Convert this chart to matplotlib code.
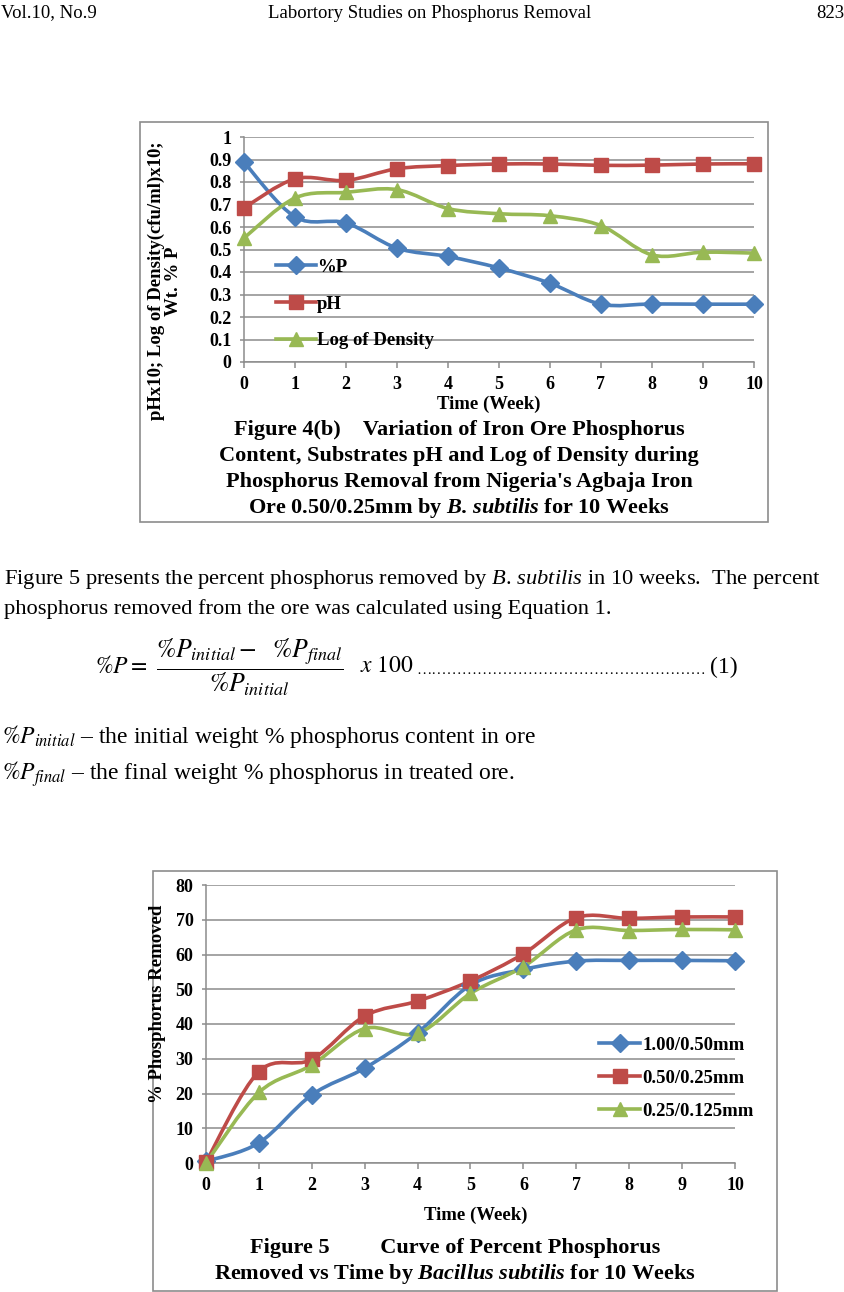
import matplotlib
matplotlib.use("Agg")
import matplotlib.pyplot as plt
from matplotlib.path import Path
from matplotlib.patches import PathPatch, Rectangle
from matplotlib.lines import Line2D

plt.rcParams['font.family'] = ['Liberation Serif', 'DejaVu Serif']
plt.rcParams['mathtext.fontset'] = 'custom'
plt.rcParams['mathtext.rm'] = 'Liberation Serif'
plt.rcParams['mathtext.it'] = 'Liberation Serif:italic'
plt.rcParams['mathtext.bf'] = 'Liberation Serif:bold'
plt.rcParams['mathtext.bfit'] = 'Liberation Serif:italic:bold'

W, H = 845, 1292

weeks = [0, 1, 2, 3, 4, 5, 6, 7, 8, 9, 10]

# Figure 4(b) series
p_content = [0.888, 0.645, 0.618, 0.506, 0.469, 0.418, 0.350, 0.257, 0.258, 0.257, 0.257]
ph_x10 = [0.685, 0.814, 0.807, 0.859, 0.873, 0.880, 0.880, 0.874, 0.875, 0.880, 0.881]
log_density = [0.551, 0.729, 0.754, 0.766, 0.682, 0.659, 0.650, 0.606, 0.476, 0.488, 0.484]
fig4_labels = ['%P', 'pH', 'Log of Density']

# Figure 5 series
removed_100_050 = [0.5, 5.8, 19.6, 27.3, 37.5, 51.2, 55.7, 58.1, 58.3, 58.3, 58.2]
removed_050_025 = [0.3, 26.3, 29.8, 42.3, 46.6, 52.4, 60.2, 70.6, 70.4, 70.8, 70.8]
removed_025_0125 = [0.0, 20.3, 28.2, 38.7, 37.3, 48.8, 56.5, 67.1, 66.9, 67.2, 67.1]
fig5_labels = ['1.00/0.50mm', '0.50/0.25mm', '0.25/0.125mm']

BLUE, RED, GREEN = '#4a7ebb', '#be4b48', '#98b954'
GRID = '#8c8c8c'
styles = [(BLUE, 'D', 9), (RED, 's', 10), (GREEN, '^', 10)]


def fx(x):
    return x / W


def fy(y):
    return 1 - y / H


def smooth_line(ax, x, y, color, lw=2.6):
    # excel style smoothed line: bezier segments through the data points
    n = len(x)
    verts = [(x[0], y[0])]
    codes = [Path.MOVETO]
    for i in range(n - 1):
        x0, y0 = x[max(i - 1, 0)], y[max(i - 1, 0)]
        x3, y3 = x[min(i + 2, n - 1)], y[min(i + 2, n - 1)]
        c1 = (x[i] + (x[i + 1] - x0) / 6, y[i] + (y[i + 1] - y0) / 6)
        c2 = (x[i + 1] - (x3 - x[i]) / 6, y[i + 1] - (y3 - y[i]) / 6)
        verts += [c1, c2, (x[i + 1], y[i + 1])]
        codes += [Path.CURVE4] * 3
    ax.add_patch(PathPatch(Path(verts, codes), fill=False, edgecolor=color,
                           lw=lw, capstyle='round', joinstyle='round', zorder=3))


def style_axes(ax, ymax, ystep, ylabels):
    ax.set_xlim(0, 10)
    ax.set_ylim(0, ymax)
    ax.set_xticks(weeks)
    ax.set_yticks([i * ystep for i in range(len(ylabels))])
    ax.set_yticklabels(ylabels)
    ax.grid(axis='y', color=GRID, lw=1.1)
    ax.set_axisbelow(True)
    for s in ['top', 'right']:
        ax.spines[s].set_visible(False)
    for s in ['left', 'bottom']:
        ax.spines[s].set_color(GRID)
        ax.spines[s].set_linewidth(1.1)
    ax.tick_params(axis='x', length=4, color=GRID, width=1.1, pad=6, labelsize=13)
    ax.tick_params(axis='y', length=3, color=GRID, width=1.1, pad=6, labelsize=13)
    for lab in ax.get_xticklabels() + ax.get_yticklabels():
        lab.set_fontweight('bold')


fig = plt.figure(figsize=(W / 100, H / 100), dpi=100)

# page header
fig.text(fx(1), fy(13), 'Vol.10, No.9', fontsize=13.5, va='center')
fig.text(fx(430), fy(13), 'Labortory Studies on Phosphorus Removal', fontsize=13.5, va='center', ha='center')
fig.text(fx(844), fy(13), '823', fontsize=13.5, va='center', ha='right')

# ---------- Figure 4(b) ----------
fig.patches.append(Rectangle((fx(140), fy(522)), (768 - 140) / W, (522 - 122) / H,
                             transform=fig.transFigure, fill=False, edgecolor=GRID, lw=1.2))
ax4 = fig.add_axes([fx(244), fy(362), (754 - 244) / W, (362 - 137) / H])
style_axes(ax4, 1, 0.1, ['0', '0.1', '0.2', '0.3', '0.4', '0.5', '0.6', '0.7', '0.8', '0.9', '1'])
handles = []
for ys, (c, m, ms), lab in zip([p_content, ph_x10, log_density], styles, fig4_labels):
    smooth_line(ax4, weeks, ys, c)
    ax4.plot(weeks, ys, ls='none', marker=m, ms=ms, color=c, clip_on=False, zorder=4)
    handles.append(Line2D([], [], color=c, lw=2.6, marker=m, ms=ms))
ax4.legend(handles, fig4_labels, loc='upper left', bbox_to_anchor=(0.045, 0.50), frameon=False,
           prop={'weight': 'bold', 'size': 13.5}, handlelength=2.1, handletextpad=0.05,
           labelspacing=1.04, borderpad=0)
fig.text(fx(165), fy(281), 'pHx10; Log of Density(cfu/ml)x10;\nWt. % P', rotation=90,
         ha='center', va='center', fontsize=13.5, weight='bold', linespacing=0.95)
fig.text(fx(489), fy(404), 'Time (Week)', ha='center', va='center', fontsize=13.5, weight='bold')
cap4 = ['Figure 4(b)    Variation of Iron Ore Phosphorus',
        'Content, Substrates pH and Log of Density during',
        "Phosphorus Removal from Nigeria's Agbaja Iron",
        r'Ore 0.50/0.25mm by $\mathbfit{B.\,subtilis}$ for 10 Weeks']
for i, line in enumerate(cap4):
    fig.text(fx(459), fy(430 + 26 * i), line, ha='center', va='center', fontsize=16, weight='bold')

# ---------- body text ----------
fig.text(fx(4), fy(579), r'Figure 5 presents the percent phosphorus removed by $\mathit{B.\,subtilis}$ in 10 weeks.  The percent',
         fontsize=16.2, va='center')
fig.text(fx(4), fy(609), 'phosphorus removed from the ore was calculated using Equation 1.', fontsize=16.2, va='center')
fig.text(fx(95), fy(667), r'$\%P =$', fontsize=17, va='center', math_fontfamily='stix')
fig.text(fx(156), fy(667), r'$\dfrac{\%P_{initial} -\ \ \%P_{final}}{\%P_{initial}}$', fontsize=18.5,
         va='center', math_fontfamily='stix')
fig.text(fx(360), fy(667), r'$x\ 100$', fontsize=17, va='center', math_fontfamily='stix')
fig.text(fx(416), fy(670), '…' * 19, fontsize=11, va='center')
fig.text(fx(738), fy(667), '(1)', fontsize=17, va='center', ha='right', math_fontfamily='stix')
fig.text(fx(2), fy(737), r'$\%P_{initial}$ – the initial weight % phosphorus content in ore', fontsize=17,
         va='center', math_fontfamily='stix')
fig.text(fx(2), fy(774), r'$\%P_{final}$ – the final weight % phosphorus in treated ore.', fontsize=17,
         va='center', math_fontfamily='stix')

# ---------- Figure 5 ----------
fig.patches.append(Rectangle((fx(153), fy(1291)), (777 - 153) / W, (1291 - 871) / H,
                             transform=fig.transFigure, fill=False, edgecolor=GRID, lw=1.2))
ax5 = fig.add_axes([fx(206), fy(1163), (735 - 206) / W, (1163 - 885) / H])
style_axes(ax5, 80, 10, ['0', '10', '20', '30', '40', '50', '60', '70', '80'])
handles = []
for ys, (c, m, ms), lab in zip([removed_100_050, removed_050_025, removed_025_0125], styles, fig5_labels):
    smooth_line(ax5, weeks, ys, c)
    ax5.plot(weeks, ys, ls='none', marker=m, ms=ms, color=c, clip_on=False, zorder=4)
    handles.append(Line2D([], [], color=c, lw=2.6, marker=m, ms=ms))
ax5.legend(handles, fig5_labels, loc='upper left', bbox_to_anchor=(0.725, 0.488), frameon=False,
           prop={'weight': 'bold', 'size': 13.5}, handlelength=2.2, handletextpad=0.1,
           labelspacing=0.85, borderpad=0)
fig.text(fx(158), fy(1004), '% Phosphorus Removed', rotation=90, ha='center', va='center',
         fontsize=13.5, weight='bold')
fig.text(fx(476), fy(1215), 'Time (Week)', ha='center', va='center', fontsize=13.5, weight='bold')
fig.text(fx(455), fy(1248), 'Figure 5         Curve of Percent Phosphorus', ha='center', va='center',
         fontsize=16, weight='bold')
fig.text(fx(455), fy(1274), r'Removed vs Time by $\mathbfit{Bacillus\ subtilis}$ for 10 Weeks', ha='center',
         va='center', fontsize=16, weight='bold')

fig.savefig('out.png', dpi=100)
